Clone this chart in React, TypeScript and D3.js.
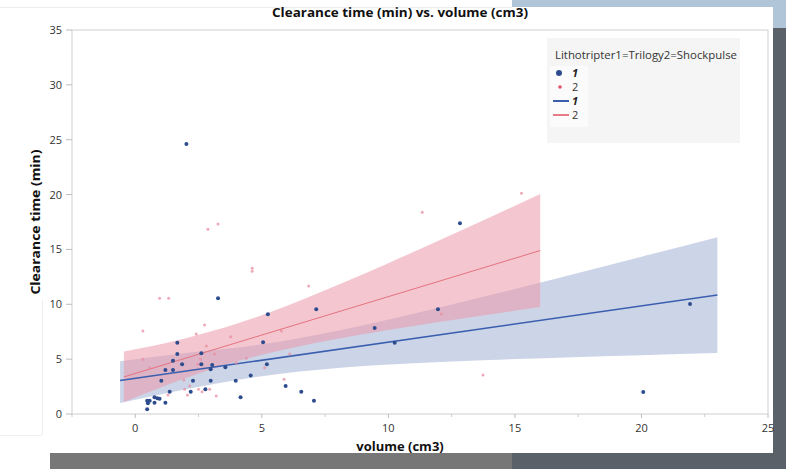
import React from "react";
import * as d3 from "d3";

// ---------- data ----------
const blueVol = [2.02, 3.27, 5.24, 1.66, 1.66, 1.49, 2.61, 1.85, 1.19, 1.49, 2.61, 3.04, 2.98, 3.56, 5.05, 5.2, 1.03, 2.28, 2.98, 3.97, 4.56, 5.94, 1.36, 2.19, 2.77, 4.16, 1.19, 0.47, 0.57, 0.76, 0.87, 0.96, 0.5, 0.76, 0.47, 6.56, 12.83, 7.15, 11.96, 9.46, 10.25, 7.06, 21.92, 20.07];
const blueTime = [24.6, 10.55, 9.09, 6.5, 5.47, 4.86, 5.53, 4.53, 4.01, 4.01, 4.53, 4.47, 4.07, 4.26, 6.54, 4.53, 3.04, 3.04, 3.04, 3.04, 3.52, 2.55, 2.03, 2.03, 2.25, 1.52, 1.03, 1.21, 1.21, 1.52, 1.43, 1.39, 0.97, 1.03, 0.43, 2.03, 17.38, 9.54, 9.54, 7.84, 6.5, 1.21, 10.03, 2.0];

const redVol = [3.27, 2.87, 4.62, 4.62, 0.96, 1.32, 0.3, 2.74, 2.41, 3.77, 5.77, 2.81, 0.3, 0.57, 2.58, 2.48, 2.61, 3.13, 3.99, 4.39, 5.11, 1.92, 2.15, 1.95, 2.5, 2.64, 2.94, 2.06, 1.29, 3.2, 5.88, 15.26, 11.34, 6.85, 12.09, 6.1, 13.74];
const redTime = [17.32, 16.84, 13.28, 13.0, 10.55, 10.55, 7.57, 8.11, 7.29, 7.05, 7.57, 6.2, 4.99, 4.22, 4.99, 4.53, 4.53, 5.47, 4.68, 5.08, 4.22, 3.1, 2.55, 2.25, 2.25, 2.03, 2.25, 1.73, 1.73, 1.64, 3.16, 20.12, 18.39, 11.67, 9.12, 5.47, 3.56];

const blueFitVol = [-0.6, 23];
const blueFitTime = [3.05, 10.84];
const redFitVol = [-0.45, 16];
const redFitTime = [3.38, 14.9];

const blueBandVol = [-0.6, 2, 5, 8, 11, 14, 17, 20, 23];
const blueBandLo = [1.0, 2.26, 3.45, 4.19, 4.62, 4.92, 5.16, 5.36, 5.56];
const blueBandHi = [4.8, 5.56, 6.35, 7.59, 9.14, 10.82, 12.56, 14.34, 16.12];

const redBandVol = [-0.45, 2, 4, 6, 8, 10, 12, 14, 16];
const redBandLo = [1.09, 3.29, 4.78, 5.93, 6.85, 7.65, 8.38, 9.08, 9.75];
const redBandHi = [5.69, 6.91, 8.22, 9.87, 11.75, 13.75, 15.82, 17.92, 20.05];

const xTicks = [0, 5, 10, 15, 20, 25];
const xMinorTicks = [-2.5, 2.5, 7.5, 12.5, 17.5, 22.5];
const yTicks = [0, 5, 10, 15, 20, 25, 30, 35];

const title = "Clearance time (min) vs. volume (cm3)";
const xTitle = "volume (cm3)";
const yTitle = "Clearance time (min)";
const legendTitle = "Lithotripter1=Trilogy2=Shockpulse";

// ---------- component ----------
export default function App() {
  const W = 786, H = 469;
  const left = 72, right = 768, top = 30, bottom = 414;
  const x = d3.scaleLinear().domain([-2.5, 25]).range([left, right]);
  const y = d3.scaleLinear().domain([0, 35]).range([bottom, top]);

  const band = (vols: number[], lo: number[], hi: number[]) =>
    d3
      .area<number>()
      .x((i) => x(vols[i]))
      .y0((i) => y(lo[i]))
      .y1((i) => y(hi[i]))
      .curve(d3.curveMonotoneX)(vols.map((_, i) => i)) || "";

  const line = (vols: number[], ts: number[]) =>
    d3
      .line<number>()
      .x((i) => x(vols[i]))
      .y((i) => y(ts[i]))(vols.map((_, i) => i)) || "";

  const font = "'Open Sans', 'Noto Sans', sans-serif";
  const blue = "#2d4c8e";
  const blueLine = "#3b5fae";
  const redLine = "#e5727f";
  const redDot = "#ea8ea2";

  return (
    <svg
      width={W}
      height={H}
      style={{ position: "absolute", left: 0, top: 0, display: "block" }}
      fontFamily={font}
    >
      {/* page background */}
      <rect x={0} y={0} width={W} height={H} fill="#ffffff" />
      <rect x={512} y={0} width={274} height={28} fill="#b1c5d8" />
      <rect x={0} y={7} width={773} height={446} fill="#ffffff" />
      <line x1={0} y1={7.5} x2={512} y2={7.5} stroke="#ececec" />
      <rect x={773} y={28} width={13} height={441} fill="#5a6169" />
      <rect x={50} y={453} width={462} height={16} fill="#777777" />
      <rect x={512} y={453} width={274} height={16} fill="#5a6169" />
      <line x1={42.5} y1={300} x2={42.5} y2={435} stroke="#eeeeee" />
      <line x1={0} y1={435.5} x2={42} y2={435.5} stroke="#eeeeee" />

      {/* title */}
      <text
        x={400}
        y={17}
        textAnchor="middle"
        fontSize={13}
        fontWeight="bold"
        fill="#111"
        textLength={256}
        lengthAdjust="spacingAndGlyphs"
      >
        {title}
      </text>

      {/* plot frame */}
      <rect
        x={left}
        y={top}
        width={right - left}
        height={bottom - top}
        fill="#ffffff"
        stroke="#cfcfcf"
        strokeWidth={1}
      />

      {/* legend */}
      <rect x={547} y={38} width={193} height={105} fill="#f5f5f5" />
      <rect x={550} y={66} width={38} height={61} fill="#fbfbfb" />
      <text
        x={555}
        y={59}
        fontSize={10}
        fill="#333"
        textLength={182}
        lengthAdjust="spacingAndGlyphs"
      >
        {legendTitle}
      </text>
      <circle cx={559} cy={73} r={3} fill={blue} />
      <text x={572} y={77} fontSize={11} fontWeight="bold" fontStyle="italic" fill="#222">
        1
      </text>
      <circle cx={560} cy={87} r={1.8} fill="#e0506a" />
      <text x={572} y={91} fontSize={11} fill="#333">
        2
      </text>
      <line x1={553} x2={569} y1={101} y2={101} stroke={blueLine} strokeWidth={2} />
      <text x={572} y={105} fontSize={11} fontWeight="bold" fontStyle="italic" fill="#222">
        1
      </text>
      <line x1={553} x2={569} y1={115} y2={115} stroke="#e0505f" strokeWidth={1.5} />
      <text x={572} y={119} fontSize={11} fill="#333">
        2
      </text>

      {/* confidence bands */}
      <path d={band(blueBandVol, blueBandLo, blueBandHi)} fill="#ccd5e8" />
      <path d={band(redBandVol, redBandLo, redBandHi)} fill="#eb97a8" fillOpacity={0.55} />

      {/* fit lines */}
      <path d={line(blueFitVol, blueFitTime)} stroke={blueLine} strokeWidth={1.5} fill="none" />
      <path d={line(redFitVol, redFitTime)} stroke={redLine} strokeWidth={1} fill="none" />

      {/* points */}
      {redVol.map((v, i) => (
        <circle key={"r" + i} cx={x(v)} cy={y(redTime[i])} r={1.5} fill={redDot} fillOpacity={0.75} />
      ))}
      {blueVol.map((v, i) => (
        <circle key={"b" + i} cx={x(v)} cy={y(blueTime[i])} r={2} fill={blue} />
      ))}

      {/* y axis */}
      {yTicks.map((t) => (
        <g key={"y" + t}>
          <line x1={left - 6} x2={left} y1={y(t)} y2={y(t)} stroke="#bdbdbd" />
          <text x={62} y={y(t) + 4} textAnchor="end" fontSize={11} fill="#333">
            {t}
          </text>
        </g>
      ))}

      {/* x axis */}
      {xTicks.map((t) => (
        <g key={"x" + t}>
          <line x1={x(t)} x2={x(t)} y1={bottom} y2={bottom + 4} stroke="#bdbdbd" />
          <text x={x(t)} y={432} textAnchor="middle" fontSize={11} fill="#333">
            {t}
          </text>
        </g>
      ))}
      {xMinorTicks.map((t) => (
        <line key={"m" + t} x1={x(t)} x2={x(t)} y1={bottom} y2={bottom + 3} stroke="#cccccc" />
      ))}

      {/* axis titles */}
      <text x={400} y={451} textAnchor="middle" fontSize={13} fontWeight="bold" fill="#111">
        {xTitle}
      </text>
      <text
        transform={`translate(40, 222) rotate(-90)`}
        textAnchor="middle"
        fontSize={13}
        fontWeight="bold"
        fill="#111"
        textLength={145}
        lengthAdjust="spacingAndGlyphs"
      >
        {yTitle}
      </text>
    </svg>
  );
}
